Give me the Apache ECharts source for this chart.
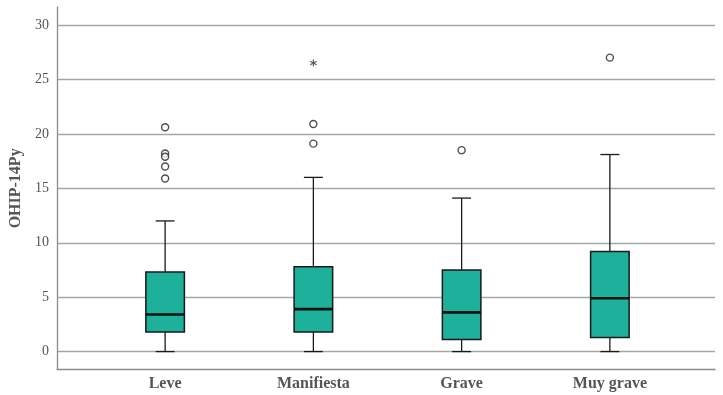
<!DOCTYPE html>
<html>
<head>
<meta charset="utf-8">
<script src="https://cdn.jsdelivr.net/npm/echarts@6/dist/echarts.min.js"></script>
<style>
html,body{margin:0;padding:0;background:#fff;}
#box_chart{width:723px;height:395px;}
</style>
</head>
<body>
<div id="box_chart"></div>
<script>
// datos
var categories = ['Leve', 'Manifiesta', 'Grave', 'Muy grave'];
var boxMin = [0, 0, 0, 0];
var boxQ1 = [1.8, 1.8, 1.1, 1.3];
var boxMedian = [3.4, 3.9, 3.6, 4.9];
var boxQ3 = [7.3, 7.8, 7.5, 9.2];
var boxMax = [12, 16, 14.1, 18.1];
var outliers = [[0, 20.6], [0, 18.2], [0, 17.9], [0, 17.0], [0, 15.9], [1, 20.9], [1, 19.1], [2, 18.5], [3, 27.0]];
var extremes = [[1, 26.5]];
var yTicks = [0, 5, 10, 15, 20, 25, 30];

var yMin = -1.6, yMax = 31.65;
var fontFam = '"Liberation Serif", "DejaVu Serif", serif';
var asterisk = 'path://M-0.8,-5L0.8,-5L0.8,5L-0.8,5Z' +
    'M3.93,-3.19L4.73,-1.81L-3.93,3.19L-4.73,1.81Z' +
    'M-4.73,-1.81L-3.93,-3.19L4.73,1.81L3.93,3.19Z';

var boxData = [];
for (var i = 0; i < categories.length; i++) {
    boxData.push([i, boxMin[i], boxQ1[i], boxMedian[i], boxQ3[i], boxMax[i]]);
}

var box_chart = echarts.init(document.getElementById('box_chart'));

var renderBox = function (params, api) {
    var x = api.value(0);
    var band = api.size([1, 0])[0];
    var half = band * 0.13;
    var cap = band * 0.064;
    var pMin = api.coord([x, api.value(1)]);
    var pQ1 = api.coord([x, api.value(2)]);
    var pMed = api.coord([x, api.value(3)]);
    var pQ3 = api.coord([x, api.value(4)]);
    var pMax = api.coord([x, api.value(5)]);
    var cx = pMed[0];
    var wStyle = { stroke: '#1a1a1a', lineWidth: 1.3 };
    return {
        type: 'group',
        children: [
            { type: 'line', shape: { x1: cx, y1: pMax[1], x2: cx, y2: pQ3[1] }, style: wStyle },
            { type: 'line', shape: { x1: cx, y1: pQ1[1], x2: cx, y2: pMin[1] }, style: wStyle },
            { type: 'line', shape: { x1: cx - cap, y1: pMax[1], x2: cx + cap, y2: pMax[1] }, style: wStyle },
            { type: 'line', shape: { x1: cx - cap, y1: pMin[1], x2: cx + cap, y2: pMin[1] }, style: wStyle },
            {
                type: 'rect',
                shape: { x: cx - half, y: pQ3[1], width: half * 2, height: pQ1[1] - pQ3[1] },
                style: { fill: '#1db09b', stroke: '#1a1a1a', lineWidth: 1.5 }
            },
            {
                type: 'line',
                shape: { x1: cx - half, y1: pMed[1], x2: cx + half, y2: pMed[1] },
                style: { stroke: '#111', lineWidth: 2.6 }
            }
        ]
    };
};

option = {
    backgroundColor: '#fff',
    animation: false,
    grid: [
        // marco con los ejes
        { left: 57, right: 8, top: 7, bottom: 26 },
        // lineas de 0 a 30
        { left: 57, right: 8, top: 25, bottom: 43.3 },
        // cajas
        { left: 91, right: 39, top: 7, bottom: 26 }
    ],
    xAxis: [
        {
            gridIndex: 0, type: 'category', data: categories,
            axisLine: { onZero: false, lineStyle: { color: '#8c8c8c', width: 1.3 } },
            axisTick: { show: false }, axisLabel: { show: false }
        },
        {
            gridIndex: 1, type: 'category', data: categories, show: false
        },
        {
            gridIndex: 2, type: 'category', data: categories,
            axisLine: { show: false }, axisTick: { show: false },
            axisLabel: {
                color: '#555', fontSize: 16, fontWeight: 'bold',
                fontFamily: fontFam, margin: 7
            }
        }
    ],
    yAxis: [
        {
            gridIndex: 0, type: 'value', min: yMin, max: yMax,
            axisLine: { show: true, onZero: false, lineStyle: { color: '#8c8c8c', width: 1.3 } },
            axisTick: { show: false }, axisLabel: { show: false },
            splitLine: { show: false }
        },
        {
            gridIndex: 1, type: 'value',
            min: yTicks[0], max: yTicks[yTicks.length - 1], interval: 5,
            axisLine: { show: false }, axisTick: { show: false },
            axisLabel: {
                color: '#555', fontSize: 14, fontFamily: fontFam, margin: 8
            },
            splitLine: { lineStyle: { color: '#a6a6a6', width: 1.4 } },
            name: 'OHIP-14Py', nameLocation: 'middle', nameGap: 32,
            nameTextStyle: {
                color: '#555', fontSize: 16, fontWeight: 'bold', fontFamily: fontFam
            }
        },
        {
            gridIndex: 2, type: 'value', min: yMin, max: yMax, show: false
        }
    ],
    series: [
        {
            type: 'custom',
            xAxisIndex: 2, yAxisIndex: 2,
            renderItem: renderBox,
            encode: { x: 0, y: [1, 2, 3, 4, 5] },
            data: boxData,
            z: 3
        },
        {
            type: 'scatter',
            xAxisIndex: 2, yAxisIndex: 2,
            symbol: 'circle', symbolSize: 7,
            itemStyle: { color: '#fff', borderColor: '#222', borderWidth: 1.4 },
            data: outliers,
            z: 4
        },
        {
            type: 'scatter',
            xAxisIndex: 2, yAxisIndex: 2,
            symbol: asterisk, symbolSize: 7,
            itemStyle: { color: '#333' },
            data: extremes,
            z: 4
        }
    ]
};
box_chart.setOption(option);
</script>
</body>
</html>
